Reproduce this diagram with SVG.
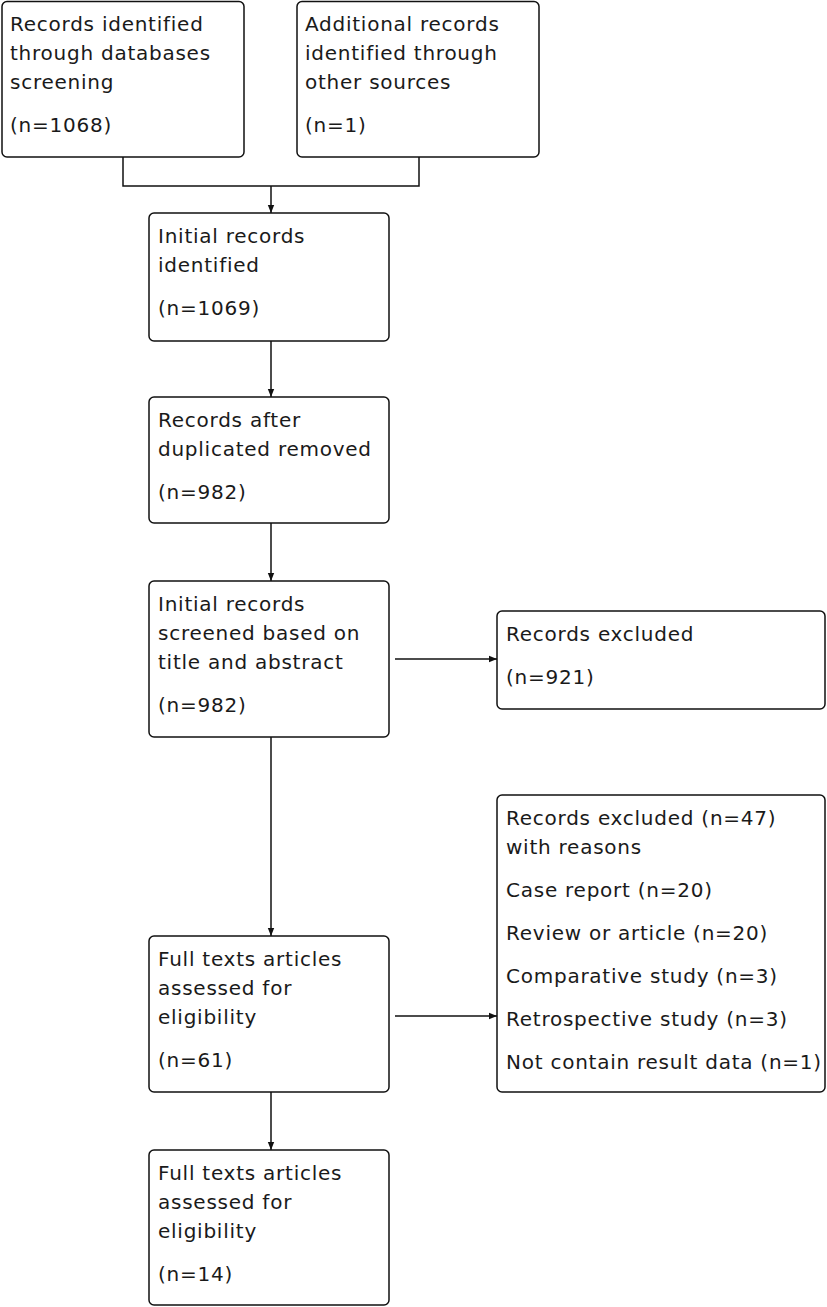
<svg xmlns="http://www.w3.org/2000/svg" width="827" height="1307" viewBox="0 0 827 1307">
<style>
.box{fill:#fff;stroke:#111;stroke-width:1.5}
.t{font-family:"DejaVu Sans",Verdana,sans-serif;font-size:20px;letter-spacing:0.75px;fill:#1a1a1a}
.c{fill:none;stroke:#111;stroke-width:1.5}
</style>
<defs>
<marker id="ah" viewBox="0 0 10 10" refX="10" refY="5" markerWidth="9" markerHeight="8" markerUnits="userSpaceOnUse" orient="auto">
<path d="M0,1 L10,5 L0,9 z" fill="#111"/>
</marker>
</defs>
<rect width="827" height="1307" fill="#fff"/>
<g id="connectors">
<path class="c" d="M123,157 V186 H419 V157"/>
<path class="c" d="M271,186 V213" marker-end="url(#ah)"/>
<path class="c" d="M271,341 V397" marker-end="url(#ah)"/>
<path class="c" d="M271,523 V581" marker-end="url(#ah)"/>
<path class="c" d="M271,737 V936" marker-end="url(#ah)"/>
<path class="c" d="M271,1092 V1150" marker-end="url(#ah)"/>
<path class="c" d="M395,659 H497" marker-end="url(#ah)"/>
<path class="c" d="M395,1016 H497" marker-end="url(#ah)"/>
</g>
<g id="n1">
<rect class="box" x="2" y="1.5" width="242" height="155.5" rx="5"/>
<text class="t" x="10" y="31">Records identified</text>
<text class="t" x="10" y="60">through databases</text>
<text class="t" x="10" y="89">screening</text>
<text class="t" x="10" y="132">(n=1068)</text>
</g>
<g id="n2">
<rect class="box" x="297" y="1.5" width="242" height="155.5" rx="5"/>
<text class="t" x="305" y="31">Additional records</text>
<text class="t" x="305" y="60">identified through</text>
<text class="t" x="305" y="89">other sources</text>
<text class="t" x="305" y="132">(n=1)</text>
</g>
<g id="n3">
<rect class="box" x="149" y="213" width="240" height="128" rx="5"/>
<text class="t" x="158" y="243">Initial records</text>
<text class="t" x="158" y="272">identified</text>
<text class="t" x="158" y="315">(n=1069)</text>
</g>
<g id="n4">
<rect class="box" x="149" y="397" width="240" height="126" rx="5"/>
<text class="t" x="158" y="427">Records after</text>
<text class="t" x="158" y="456">duplicated removed</text>
<text class="t" x="158" y="499">(n=982)</text>
</g>
<g id="n5">
<rect class="box" x="149" y="581" width="240" height="156" rx="5"/>
<text class="t" x="158" y="611">Initial records</text>
<text class="t" x="158" y="640">screened based on</text>
<text class="t" x="158" y="669">title and abstract</text>
<text class="t" x="158" y="712">(n=982)</text>
</g>
<g id="n6">
<rect class="box" x="497" y="611" width="328" height="98" rx="5"/>
<text class="t" x="506" y="641">Records excluded</text>
<text class="t" x="506" y="684">(n=921)</text>
</g>
<g id="n7">
<rect class="box" x="149" y="936" width="240" height="156" rx="5"/>
<text class="t" x="158" y="966">Full texts articles</text>
<text class="t" x="158" y="995">assessed for</text>
<text class="t" x="158" y="1024">eligibility</text>
<text class="t" x="158" y="1067">(n=61)</text>
</g>
<g id="n8">
<rect class="box" x="497" y="795" width="328" height="297" rx="5"/>
<text class="t" x="506" y="825">Records excluded (n=47)</text>
<text class="t" x="506" y="854">with reasons</text>
<text class="t" x="506" y="897">Case report (n=20)</text>
<text class="t" x="506" y="940">Review or article (n=20)</text>
<text class="t" x="506" y="983">Comparative study (n=3)</text>
<text class="t" x="506" y="1026">Retrospective study (n=3)</text>
<text class="t" x="506" y="1069">Not contain result data (n=1)</text>
</g>
<g id="n9">
<rect class="box" x="149" y="1150" width="240" height="155" rx="5"/>
<text class="t" x="158" y="1180">Full texts articles</text>
<text class="t" x="158" y="1209">assessed for</text>
<text class="t" x="158" y="1238">eligibility</text>
<text class="t" x="158" y="1281">(n=14)</text>
</g>
</svg>
